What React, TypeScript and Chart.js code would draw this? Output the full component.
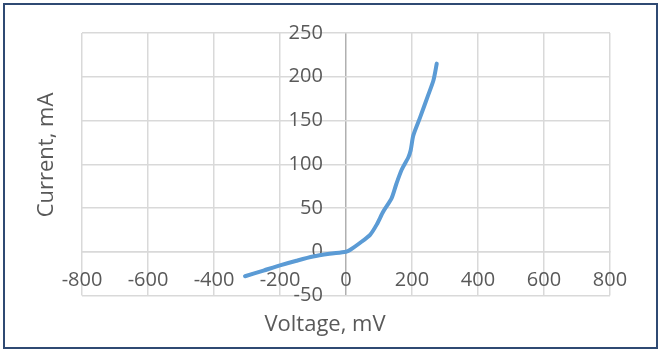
import { useEffect, useRef } from "react";
import { Chart, registerables } from "chart.js";

Chart.register(...registerables);

const voltage = [-306, -250, -200, -150, -100, -50, 0, 12, 42, 73, 93, 113, 138, 153, 169, 189, 196, 204, 224, 249, 265, 275];
const current = [-28, -21.5, -15.6, -10.3, -5.5, -2.4, 0, 2, 10, 19.4, 31, 46, 61, 78, 94, 108, 116, 133, 153, 179, 196, 215];
const xTickValues = [-800, -600, -400, -200, 0, 200, 400, 600, 800];
const yTickValues = [-50, 0, 50, 100, 150, 200, 250];
const xTitle = "Voltage, mV";
const yTitle = "Current, mA";

// y tick labels sit a little left of the x = 0 axis line
const yLabelAnchorMv = -70;

const FONT = "'Open Sans', sans-serif";
const TEXT = "#595959";
const GRID = "#D9D9D9";
const AXIS = "#B0B0B0";

const titlesPlugin = {
  id: "axisTitles",
  afterDraw(chart: any) {
    const ctx = chart.ctx;
    ctx.save();
    ctx.fillStyle = TEXT;
    ctx.font = `22px ${FONT}`;
    ctx.textAlign = "center";
    ctx.textBaseline = "middle";
    ctx.fillText(xTitle, 320, 320);
    ctx.translate(42, 150);
    ctx.rotate(-Math.PI / 2);
    ctx.fillText(yTitle, 0, 0);
    ctx.restore();
  },
};

export default function App() {
  const ref = useRef<HTMLCanvasElement | null>(null);

  useEffect(() => {
    if (!ref.current) return;
    const points = voltage.map((v, i) => ({ x: v, y: current[i] }));
    const chart = new Chart(ref.current, {
      type: "scatter",
      data: {
        datasets: [
          {
            data: points,
            showLine: true,
            borderColor: "#5B9BD5",
            backgroundColor: "#5B9BD5",
            borderWidth: 4,
            pointRadius: 0,
            tension: 0.25,
            borderCapStyle: "round",
          },
        ],
      },
      options: {
        responsive: false,
        maintainAspectRatio: false,
        animation: false,
        devicePixelRatio: 1,
        layout: { padding: { left: 77, right: 46, top: 28, bottom: 51.5 } },
        plugins: { legend: { display: false }, tooltip: { enabled: false } },
        scales: {
          x: {
            type: "linear",
            min: -800,
            max: 800,
            position: { y: 0 } as any,
            afterBuildTicks: (s: any) => {
              s.ticks = xTickValues.map((v) => ({ value: v }));
            },
            afterFit: (s: any) => {
              s.height = 0;
            },
            grid: {
              color: (c: any) => (c.tick && c.tick.value === 0 ? AXIS : GRID),
              lineWidth: 1.5,
              drawTicks: false,
            },
            border: { color: GRID, width: 1.5 },
            ticks: { padding: 17, color: TEXT, font: { family: FONT, size: 20 } },
          },
          y: {
            type: "linear",
            min: -50,
            max: 250,
            position: { x: yLabelAnchorMv } as any,
            afterBuildTicks: (s: any) => {
              s.ticks = yTickValues.map((v) => ({ value: v }));
            },
            afterFit: (s: any) => {
              s.width = 0;
            },
            grid: { color: GRID, lineWidth: 1.5, drawTicks: false },
            border: { display: false },
            ticks: { padding: 0, color: TEXT, font: { family: FONT, size: 20 } },
          },
        },
      },
      plugins: [titlesPlugin],
    });
    return () => chart.destroy();
  }, []);

  return (
    <div
      style={{
        position: "absolute",
        left: 3,
        top: 3,
        width: 655,
        height: 346,
        boxSizing: "border-box",
        border: "2px solid #2F4A73",
        background: "#fff",
      }}
    >
      <canvas ref={ref} width={651} height={342} style={{ display: "block", width: 651, height: 342 }} />
    </div>
  );
}
